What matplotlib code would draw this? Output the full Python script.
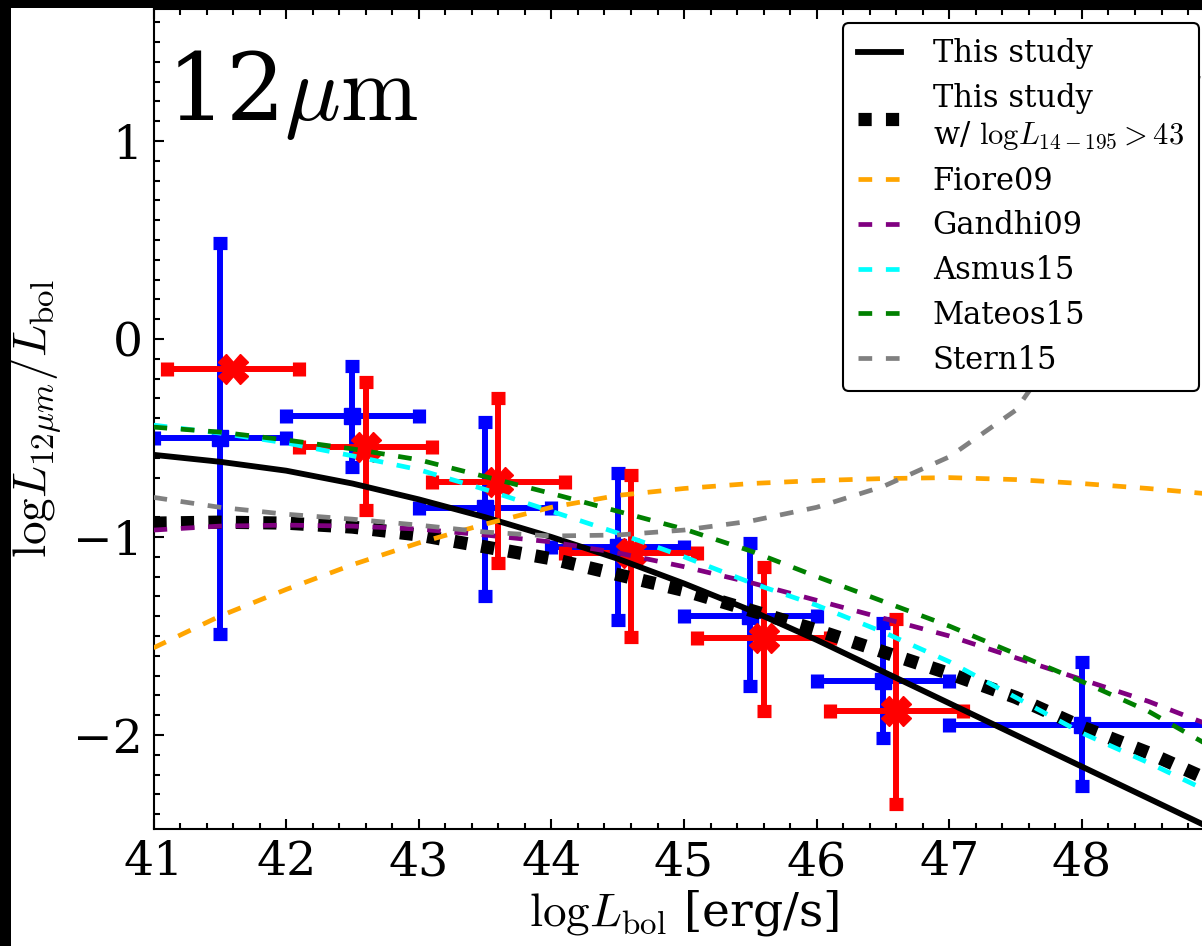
import numpy as np
import matplotlib
matplotlib.use('Agg')
import matplotlib.pyplot as plt
from matplotlib.patches import Rectangle

plt.rcParams['font.family'] = 'serif'
plt.rcParams['font.serif'] = ['DejaVu Serif']
plt.rcParams['mathtext.fontset'] = 'cm'

# model curves
lbol = [41.0, 41.5, 42.0, 42.5, 43.0, 43.5, 44.0, 44.5, 45.0, 45.5,
        46.0, 46.5, 47.0, 47.5, 48.0, 48.5, 49.0]
this_study = [-0.585, -0.62, -0.665, -0.73, -0.81, -0.90, -1.00, -1.11, -1.235, -1.37,
              -1.52, -1.68, -1.84, -2.00, -2.16, -2.32, -2.48]
this_study_hi = [-0.93, -0.925, -0.93, -0.95, -0.99, -1.05, -1.11, -1.19, -1.27, -1.37,
                 -1.47, -1.58, -1.69, -1.81, -1.96, -2.09, -2.24]
fiore09 = [-1.56, -1.40, -1.265, -1.14, -1.03, -0.935, -0.85, -0.79, -0.755, -0.73,
           -0.715, -0.705, -0.70, -0.71, -0.73, -0.755, -0.785]
gandhi09 = [-0.965, -0.945, -0.94, -0.945, -0.96, -0.99, -1.025, -1.08, -1.15, -1.23,
            -1.32, -1.41, -1.50, -1.61, -1.72, -1.83, -1.96]
asmus15 = [-0.435, -0.475, -0.525, -0.59, -0.66, -0.76, -0.87, -0.98, -1.10, -1.23,
           -1.345, -1.48, -1.63, -1.81, -1.99, -2.14, -2.30]
mateos15 = [-0.445, -0.47, -0.51, -0.555, -0.61, -0.695, -0.78, -0.87, -0.96, -1.07,
            -1.20, -1.325, -1.45, -1.59, -1.73, -1.88, -2.07]
stern15 = [-0.80, -0.85, -0.885, -0.91, -0.94, -0.975, -0.995, -0.99, -0.965, -0.92,
           -0.85, -0.745, -0.595, -0.36, 0.12, 0.72, 1.52]

# binned data (blue)
blue_x = np.array([41.5, 42.5, 43.5, 44.5, 45.5, 46.5, 48.0])
blue_y = np.array([-0.50, -0.39, -0.855, -1.05, -1.40, -1.725, -1.95])
blue_xlo = np.array([41.0, 42.0, 43.0, 44.0, 45.0, 46.0, 47.0])
blue_xhi = np.array([42.0, 43.0, 44.0, 45.0, 46.0, 47.0, 49.0])
blue_ylo = np.array([-1.49, -0.645, -1.30, -1.42, -1.755, -2.015, -2.26])
blue_yhi = np.array([0.485, -0.135, -0.418, -0.678, -1.032, -1.434, -1.63])

# binned data (red)
red_x = np.array([41.6, 42.6, 43.6, 44.6, 45.6, 46.6])
red_y = np.array([-0.152, -0.544, -0.72, -1.083, -1.51, -1.88])
red_xlo = np.array([41.1, 42.1, 43.1, 44.1, 45.1, 46.1])
red_xhi = np.array([42.1, 43.1, 44.1, 45.1, 46.1, 47.1])
red_ylo = np.array([np.nan, -0.864, -1.13, -1.503, -1.88, -2.35])
red_yhi = np.array([np.nan, -0.215, -0.30, -0.687, -1.15, -1.415])

fig = plt.figure(figsize=(12.02, 9.46), dpi=100, facecolor='white')
ax = fig.add_axes([153.5 / 1202, 117 / 946, 1061.1 / 1202, 820 / 946])

ax.errorbar(blue_x, blue_y,
            xerr=[blue_x - blue_xlo, blue_xhi - blue_x],
            yerr=[blue_y - blue_ylo, blue_yhi - blue_y],
            fmt='s', color='blue', ms=11, elinewidth=4.3,
            capsize=5, capthick=9.5, zorder=2)
ax.errorbar(red_x, red_y,
            xerr=[red_x - red_xlo, red_xhi - red_x],
            yerr=[red_y - red_ylo, red_yhi - red_y],
            fmt='X', color='red', ms=21, elinewidth=4.3,
            capsize=5, capthick=9.5, zorder=2)

dash = (0, (2.9, 2.9))
ax.plot(lbol, this_study, color='black', lw=4.2, label='This study', zorder=3)
ax.plot(lbol, this_study_hi, color='black', lw=9.5, ls=(0, (1, 1.08)),
        label='This study\nw/ $\\mathrm{log}L_{14-195}>43$', zorder=3)
ax.plot(lbol, fiore09, color='orange', lw=3.4, ls=dash, label='Fiore09', zorder=3)
ax.plot(lbol, gandhi09, color='purple', lw=3.4, ls=dash, label='Gandhi09', zorder=3)
ax.plot(lbol, asmus15, color='cyan', lw=3.4, ls=dash, label='Asmus15', zorder=3)
ax.plot(lbol, mateos15, color='green', lw=3.4, ls=dash, label='Mateos15', zorder=3)
ax.plot(lbol, stern15, color='gray', lw=3.4, ls=dash, label='Stern15', zorder=3)

ax.set_xlim(41, 49)
ax.set_ylim(-2.475, 1.667)
ax.set_xticks([41, 42, 43, 44, 45, 46, 47, 48])
ax.set_xticks(np.arange(41, 49.01, 0.2), minor=True)
ax.set_yticks([-2, -1, 0, 1])
ax.set_yticks(np.arange(-2.4, 1.67, 0.1), minor=True)
ax.tick_params(which='both', direction='in', top=True, right=True, width=1.5)
ax.tick_params(which='major', length=7, labelsize=34, pad=8)
ax.tick_params(which='minor', length=4)
for s in ax.spines.values():
    s.set_linewidth(1.5)

ax.set_xlabel(r'$\mathrm{log}L_{\rm bol}$ [erg/s]', fontsize=34, labelpad=2)
ax.set_ylabel(r'$\mathrm{log}L_{12\mu m}/L_{\rm bol}$', fontsize=34, labelpad=6)

ax.text(0.012, 0.865, r'12$\mu\mathrm{m}$', fontsize=67, transform=ax.transAxes,
        ha='left', va='baseline')

leg = ax.legend(loc='upper right', bbox_to_anchor=(0.9853, 0.983),
                borderaxespad=0, fontsize=22, handlelength=1.4,
                handletextpad=1.05, borderpad=0.5, labelspacing=0.45,
                framealpha=1, edgecolor='black', fancybox=True)
leg.get_frame().set_linewidth(1.5)

# black border strips along the left and top edges of the image
fig.patches.append(Rectangle((0, 0), 11 / 1202, 1, transform=fig.transFigure,
                             facecolor='black', edgecolor='none', zorder=10))
fig.patches.append(Rectangle((0, 1 - 8 / 946), 1, 8 / 946, transform=fig.transFigure,
                             facecolor='black', edgecolor='none', zorder=10))

fig.savefig('out.png', dpi=100)
